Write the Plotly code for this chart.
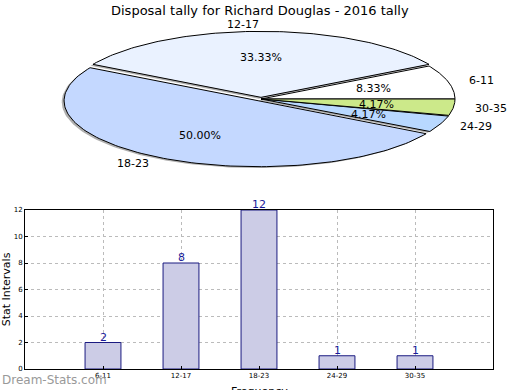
import numpy as np
import plotly.graph_objects as go

title = "Disposal tally for Richard Douglas - 2016 tally"
categories = ["6-11", "12-17", "18-23", "24-29", "30-35"]
counts = [2, 8, 12, 1, 1]
pie_colors = ["#FFFFFF", "#EAF2FF", "#C4D8FF", "#B8D8FF", "#CCE98A"]
explode = [0.0, 0.025, 0.03, 0.0, 0.0]
y_ticks = [0, 2, 4, 6, 8, 10, 12]

W, H = 520, 390
# pie ellipse geometry (pixels)
cx, cy, a, b = 261.0, 99.0, 194.0, 66.0
pie_top_px, pie_bot_px = 19.5, 195.0

fig = go.Figure()

total = sum(counts)
fracs = [c / total for c in counts]
starts = np.cumsum([0] + fracs[:-1])

def wedge(t0, t1, dx, dy):
    th = np.linspace(2 * np.pi * t0, 2 * np.pi * t1, 120)
    xs = np.concatenate([[dx], dx + np.cos(th), [dx]])
    ys = np.concatenate([[dy], dy + np.sin(th), [dy]])
    return xs, ys

# shadows
for f, s, e in zip(fracs, starts, explode):
    mid = 2 * np.pi * (s + f / 2)
    dx, dy = e * np.cos(mid), e * np.sin(mid)
    xs, ys = wedge(s, s + f, dx - 0.012, dy - 0.02)
    fig.add_trace(go.Scatter(x=xs, y=ys, fill="toself", fillcolor="rgba(110,110,110,0.55)",
                             line=dict(width=0), mode="lines", hoverinfo="skip",
                             xaxis="x2", yaxis="y2", showlegend=False))
# wedges
for cat, f, s, e, col in zip(categories, fracs, starts, explode, pie_colors):
    mid = 2 * np.pi * (s + f / 2)
    dx, dy = e * np.cos(mid), e * np.sin(mid)
    xs, ys = wedge(s, s + f, dx, dy)
    fig.add_trace(go.Scatter(x=xs, y=ys, fill="toself", fillcolor=col,
                             line=dict(width=1, color="#000000"), mode="lines",
                             xaxis="x2", yaxis="y2", showlegend=False, name=cat))

annotations = []
for cat, f, s, e in zip(categories, fracs, starts, explode):
    mid = 2 * np.pi * (s + f / 2)
    c, sn = np.cos(mid), np.sin(mid)
    dx, dy = e * c, e * sn
    annotations.append(dict(x=dx + 1.1 * c, y=dy + 1.1 * sn, xref="x2", yref="y2",
                            text=cat, showarrow=False,
                            xanchor="left" if c > 1e-9 else "right", yanchor="middle",
                            font=dict(size=11, color="#000000")))
    annotations.append(dict(x=dx + 0.6 * c, y=dy + 0.6 * sn, xref="x2", yref="y2",
                            text="%.2f%%" % (100 * f), showarrow=False,
                            xanchor="center", yanchor="middle",
                            font=dict(size=11, color="#000000")))

# bar chart
xpos = list(range(len(categories)))
fig.add_trace(go.Bar(x=xpos, y=counts, width=0.46,
                     marker=dict(color="#CCCCE6", line=dict(color="#1A1A80", width=1)),
                     showlegend=False, xaxis="x", yaxis="y"))
for xp, c in zip(xpos, counts):
    annotations.append(dict(x=xp, y=c, xref="x", yref="y", text=str(c), showarrow=False,
                            xanchor="center", yanchor="bottom", yshift=-3,
                            font=dict(size=11, color="#1A1A99")))

annotations.append(dict(x=0, y=10 / H, xref="paper", yref="paper", xanchor="left",
                        yanchor="middle", text="Dream-Stats.com", showarrow=False,
                        font=dict(size=12, color="#999999", family="DejaVu Sans")))
annotations.append(dict(x=0.5, y=1 - 10 / H, xref="paper", yref="paper", xanchor="center",
                        yanchor="middle", text=title, showarrow=False,
                        font=dict(size=13, color="#000000")))

x_px0, x_px1 = 25, 493
y_px_top, y_px_bot = 210, 369

annotations.append(dict(x=(x_px0 + x_px1) / 2 / W, y=(H - 383) / H, xref="paper", yref="paper",
                        xanchor="center", yanchor="top", text="Frequency", showarrow=False,
                        font=dict(size=11, color="#000000")))

fig.update_layout(
    width=W, height=H, margin=dict(l=0, r=0, t=0, b=0, autoexpand=False),
    paper_bgcolor="white", plot_bgcolor="white",
    font=dict(family="DejaVu Sans", color="#000000"),
    annotations=annotations,
    xaxis=dict(domain=[x_px0 / W, x_px1 / W], range=[-1, 5], automargin=False,
               tickvals=xpos, ticktext=categories, tickfont=dict(size=7),
               showgrid=True, gridcolor="#BBBBBB", griddash="dot", gridwidth=1,
               showline=True, linecolor="black", mirror=True, zeroline=False,
               ticks="inside", ticklen=3, tickcolor="black"),
    yaxis=dict(domain=[1 - y_px_bot / H, 1 - y_px_top / H], range=[0, 12], automargin=False,
               tickvals=y_ticks, tickfont=dict(size=7),
               showgrid=True, gridcolor="#BBBBBB", griddash="dot", gridwidth=1,
               showline=True, linecolor="black", mirror=True, zeroline=False,
               ticks="inside", ticklen=3, tickcolor="black",
               title=dict(text="Stat Intervals", font=dict(size=11), standoff=4)),
    xaxis2=dict(domain=[0, 1], range=[(0 - cx) / a, (W - cx) / a], visible=False,
                fixedrange=True),
    yaxis2=dict(domain=[1 - pie_bot_px / H, 1 - pie_top_px / H],
                range=[(cy - pie_bot_px) / b, (cy - pie_top_px) / b], visible=False,
                fixedrange=True),
)

fig.write_html("out.html", config={"displayModeBar": False},
               post_script="document.body.style.margin='0';")
